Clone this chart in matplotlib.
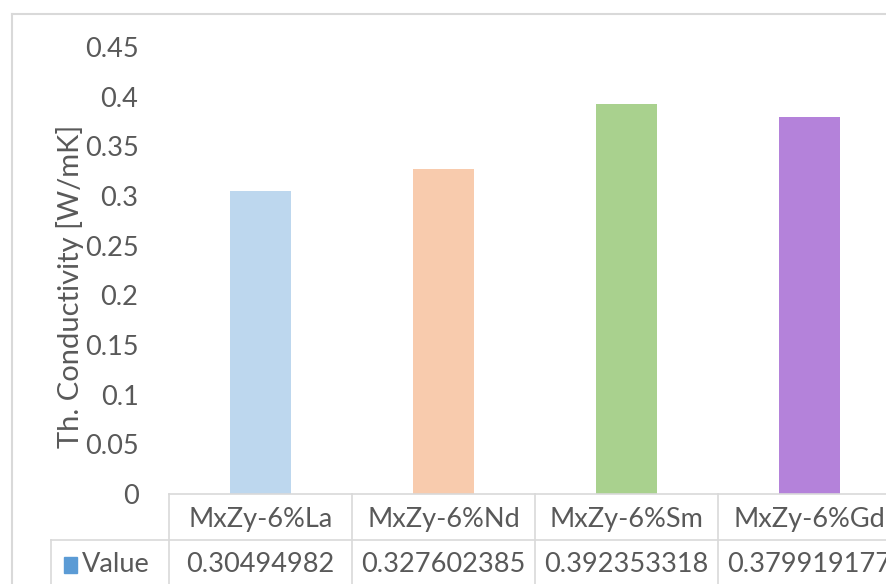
import matplotlib
matplotlib.use("Agg")
import matplotlib.pyplot as plt
from matplotlib import transforms
from matplotlib.patches import Rectangle

# Data
categories = ["MxZy-6%La", "MxZy-6%Nd", "MxZy-6%Sm", "MxZy-6%Gd"]
values = [0.30494982, 0.327602385, 0.392353318, 0.379919177]
value_labels = ["0.30494982", "0.327602385", "0.392353318", "0.379919177"]
series_name = "Value"
y_ticks = [0, 0.05, 0.1, 0.15, 0.2, 0.25, 0.3, 0.35, 0.4, 0.45]
y_tick_labels = ["0", "0.05", "0.1", "0.15", "0.2", "0.25", "0.3", "0.35", "0.4", "0.45"]
y_label = "Th. Conductivity [W/mK]"

bar_colors = ["#BDD7EE", "#F8CBAD", "#A9D18E", "#B482DA"]
legend_color = "#5B9BD5"
text_color = "#595959"
line_color = "#D9D9D9"
fs = 19.5

W, H = 886, 584
fig = plt.figure(figsize=(W / 100, H / 100), dpi=100)
plt.rcParams["font.family"] = ["Lato", "DejaVu Sans"]


def fx(px):
    return px / W


def fy(py):
    return 1 - py / H


# plot area in pixels: categories each 183 px wide starting at x=169
left_px, cat_w = 169, 183
top_px, bot_px = 47, 494
ax = fig.add_axes([fx(left_px), fy(bot_px), fx(cat_w * len(categories)),
                   (bot_px - top_px) / H])
ax.set_xlim(-0.5, len(categories) - 0.5)
ax.set_ylim(0, 0.45)
ax.bar(range(len(categories)), values, width=61 / cat_w, color=bar_colors)
ax.set_xticks([])
ax.set_yticks(y_ticks)
ax.set_yticklabels(y_tick_labels, fontsize=fs, color=text_color)
ax.tick_params(axis="y", length=0, pad=22)
for s in ax.spines.values():
    s.set_visible(False)

# axis title
fig.text(fx(70), fy(286), y_label, rotation=90, ha="center", va="center",
         fontsize=21, color=text_color)

# chart border
fig.add_artist(plt.Line2D([fx(12), 1.0], [fy(14), fy(14)], color=line_color, lw=1.5))
fig.add_artist(plt.Line2D([fx(12), fx(12)], [fy(14), 0], color=line_color, lw=1.5))

# data table below the plot
bt = transforms.blended_transform_factory(ax.transData, fig.transFigure)
n = len(categories)
row_sep = 540
fig.add_artist(plt.Line2D([-0.5, n - 0.5], [fy(bot_px), fy(bot_px)],
                          transform=bt, color=line_color, lw=1.2))
fig.add_artist(plt.Line2D([fx(51), 1.0], [fy(row_sep), fy(row_sep)],
                          color=line_color, lw=1.2))
fig.add_artist(plt.Line2D([fx(51), fx(51)], [fy(row_sep), 0],
                          color=line_color, lw=1.2))
for i in range(n + 1):
    xb = i - 0.5
    fig.add_artist(plt.Line2D([xb, xb], [fy(bot_px), 0], transform=bt,
                              color=line_color, lw=1.2))
for i, (c, v) in enumerate(zip(categories, value_labels)):
    fig.text(i, fy(520), c, transform=bt, ha="center", va="center",
             fontsize=fs, color=text_color)
    fig.text(i, fy(565), v, transform=bt, ha="center", va="center",
             fontsize=fs, color=text_color)

# legend key in the row header
fig.add_artist(Rectangle((fx(64), fy(573)), fx(13), 16 / H, color=legend_color,
                         transform=fig.transFigure))
fig.text(fx(82), fy(565), series_name, ha="left", va="center",
         fontsize=fs, color=text_color)

fig.savefig("out.png", dpi=100)
